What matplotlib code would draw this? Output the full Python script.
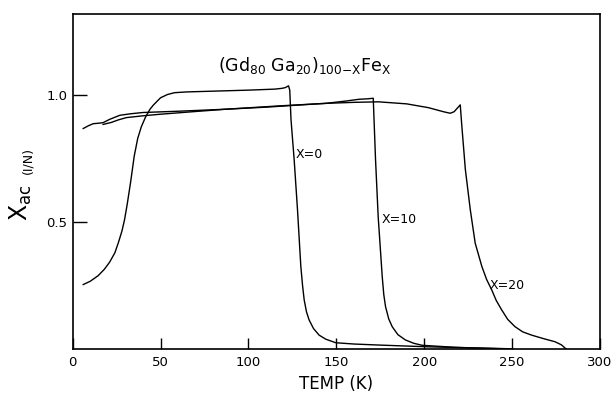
import numpy as np
import matplotlib
matplotlib.use('Agg')
import matplotlib.pyplot as plt

# --- Daten ---
temp_x0 = [6, 10, 14.5, 18, 21, 24, 26, 28, 29.5, 31, 33, 35, 37, 39, 41.5, 44, 46,
           50, 54, 58, 65, 80, 100, 115, 119, 121, 122.8, 123.5, 124.2, 126, 127.9,
           129.8, 130.8, 131.7, 133, 134.5, 137, 140.2, 144, 149.7, 160, 174, 190,
           202.4, 220, 240, 250]
chi_x0 = [0.255, 0.268, 0.29, 0.315, 0.343, 0.38, 0.42, 0.465, 0.51, 0.57, 0.66, 0.76,
          0.83, 0.875, 0.915, 0.945, 0.962, 0.99, 1.003, 1.01, 1.013, 1.016, 1.02, 1.024,
          1.027, 1.03, 1.037, 1.02, 0.905, 0.747, 0.55, 0.326, 0.25, 0.195, 0.148,
          0.116, 0.082, 0.056, 0.04, 0.026, 0.021, 0.017, 0.013, 0.01, 0.007, 0.004, 0.002]

temp_x10 = [17.3, 22, 26, 30.6, 40, 49.5, 70, 87.3, 110, 130, 144, 155.3, 162.9, 168,
            171, 172.3, 173.8, 176.1, 177, 178, 179.8, 181.8, 185, 189.3, 194, 198.8,
            217.7, 235, 245]
chi_x10 = [0.885, 0.893, 0.903, 0.912, 0.919, 0.925, 0.936, 0.945, 0.953, 0.962, 0.968,
           0.977, 0.984, 0.986, 0.988, 0.747, 0.523, 0.287, 0.215, 0.168, 0.12, 0.089,
           0.058, 0.037, 0.024, 0.016, 0.008, 0.004, 0.002]

temp_x20 = [6, 9, 11.7, 15, 17.3, 21, 26.8, 33, 40, 60, 87.3, 117.5, 144, 160, 174,
            190, 202.4, 211, 214.8, 217, 220.5, 221.4, 223.4, 226.2, 229, 232.8, 235.5,
            238.4, 241, 244.1, 247.5, 251.7, 256, 261.1, 268, 274.4, 278, 281]
chi_x20 = [0.869, 0.88, 0.888, 0.89, 0.892, 0.905, 0.921, 0.927, 0.932, 0.937, 0.945,
           0.958, 0.968, 0.972, 0.974, 0.966, 0.951, 0.935, 0.929, 0.935, 0.962, 0.879,
           0.708, 0.55, 0.418, 0.326, 0.275, 0.234, 0.192, 0.155, 0.118, 0.089, 0.069,
           0.056, 0.042, 0.03, 0.018, 0.0]

x_ticks = [0, 50, 100, 150, 200, 250, 300]
y_ticks = [0.5, 1.0]

fig = plt.figure(figsize=(6.16, 3.97), dpi=100)
ax = fig.add_axes([0.118, 0.120, 0.856, 0.845])

for t, c in [(temp_x0, chi_x0), (temp_x10, chi_x10), (temp_x20, chi_x20)]:
    ax.plot(t, c, color='black', linewidth=1.0)

ax.set_xlim(0, 300)
ax.set_ylim(0, 1.32)
ax.set_xticks(x_ticks)
ax.set_xticklabels([str(v) for v in x_ticks])
ax.set_yticks(y_ticks)
ax.set_yticklabels(['0.5', '1.0'])
ax.tick_params(axis='x', direction='in', length=8, width=1, labelsize=9.5, pad=5)
ax.tick_params(axis='y', direction='in', length=10, width=1, labelsize=9.5, pad=4)
for sp in ax.spines.values():
    sp.set_linewidth(1.2)

ax.set_xlabel('TEMP (K)', fontsize=12, labelpad=4)

# Y-Achsenbeschriftung: grosses X mit Index, klein (I/N)
fig.text(0.034, 0.49, r'X$_{\mathregular{ac}}$', rotation=90, fontsize=17,
         ha='center', va='center')
fig.text(0.045, 0.595, '(I/N)', rotation=90, fontsize=9, ha='center', va='center')

ax.text(0.44, 0.846, r'(Gd$_{80}$ Ga$_{20}$)$_{100\mathregular{-X}}$Fe$_{\mathregular{X}}$',
        transform=ax.transAxes, ha='center', va='center', fontsize=12.5)

ax.text(127, 0.765, 'X=0', fontsize=9, ha='left', va='center')
ax.text(176, 0.51, 'X=10', fontsize=9, ha='left', va='center')
ax.text(237, 0.25, 'X=20', fontsize=9, ha='left', va='center')

fig.savefig('out.png', dpi=100)
